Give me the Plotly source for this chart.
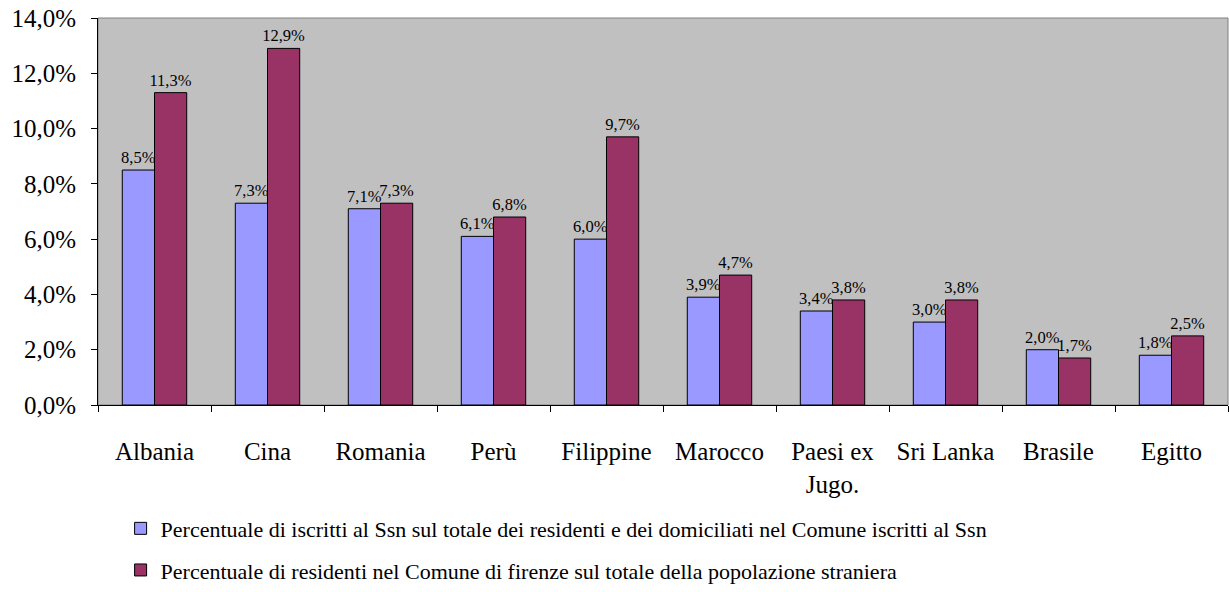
import plotly.graph_objects as go

categories = ["Albania", "Cina", "Romania", "Perù", "Filippine", "Marocco",
              "Paesi ex<br>Jugo.", "Sri Lanka", "Brasile", "Egitto"]
iscritti_ssn = [8.5, 7.3, 7.1, 6.1, 6.0, 3.9, 3.4, 3.0, 2.0, 1.8]
residenti_comune = [11.3, 12.9, 7.3, 6.8, 9.7, 4.7, 3.8, 3.8, 1.7, 2.5]
series_names = [
    "Percentuale di iscritti al Ssn sul totale dei residenti e dei domiciliati nel Comune iscritti al Ssn",
    "Percentuale di residenti nel Comune di firenze sul totale della popolazione straniera",
]
y_ticks = [0, 2, 4, 6, 8, 10, 12, 14]
y_tick_text = [f"{v:.1f}%".replace(".", ",") for v in y_ticks]

FONT = "Liberation Serif"

fig = go.Figure()
for name, vals, color, grp in [
    (series_names[0], iscritti_ssn, "#9999FF", "a"),
    (series_names[1], residenti_comune, "#993366", "b"),
]:
    fig.add_trace(go.Bar(
        x=categories, y=vals, name=name, legendgroup=grp,
        marker=dict(color=color, line=dict(color="#000000", width=1)),
        texttemplate="%{y:.1f}%", textposition="outside",
        constraintext="none",
        textfont=dict(family=FONT, size=16.5, color="#000000"),
        cliponaxis=False,
    ))

fig.update_layout(
    width=1229, height=592,
    margin=dict(l=98, r=1, t=18, b=181),
    paper_bgcolor="#FFFFFF", plot_bgcolor="#C0C0C0",
    separators=",.",
    barmode="group", bargap=0.43, bargroupgap=0,
    font=dict(family=FONT, color="#000000"),
    showlegend=True,
    legend=dict(
        orientation="v", x=0.02, xanchor="left", y=-0.265, yanchor="top",
        font=dict(family=FONT, size=22), tracegroupgap=10,
        traceorder="grouped", itemwidth=30, bgcolor="rgba(0,0,0,0)",
    ),
    shapes=[dict(type="rect", xref="paper", yref="paper", x0=0, x1=1, y0=0, y1=1,
                 line=dict(color="#808080", width=1), layer="below")],
)
fig.update_xaxes(
    showline=True, linecolor="#000000", linewidth=1,
    ticks="outside", tickson="boundaries", ticklen=6, tickcolor="#000000",
    tickfont=dict(family=FONT, size=25), ticklabelstandoff=24, showgrid=False,
)
fig.update_yaxes(
    range=[0, 14], tickvals=y_ticks, ticktext=y_tick_text,
    showline=True, linecolor="#000000", linewidth=1,
    ticks="outside", ticklen=6, tickcolor="#000000", ticklabelstandoff=10,
    tickfont=dict(family=FONT, size=25), showgrid=False, zeroline=False,
)

fig.write_html("out.html")
